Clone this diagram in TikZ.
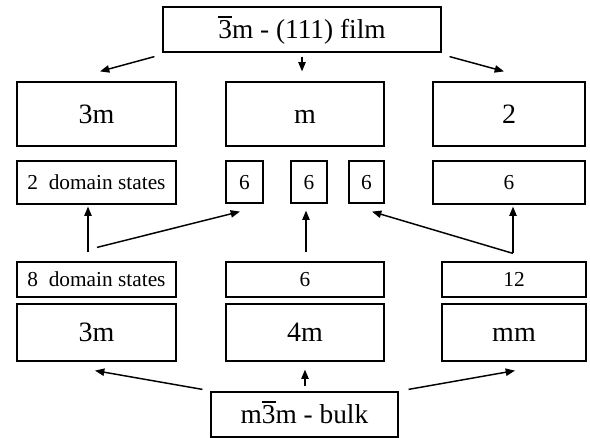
\documentclass[tikz,border=0pt]{standalone}
\usepackage{fontspec}
\setmainfont{Liberation Serif}
\usetikzlibrary{arrows.meta,calc}
\newcommand{\obar}[1]{\leavevmode\vbox{\hrule height 0.055em\kern0.09em\hbox{#1}}}
\begin{document}
\begin{tikzpicture}[x=0.75pt,y=-0.75pt,
  box/.style={draw,line width=0.9pt,rectangle,inner sep=0pt,anchor=center},
  big/.style={box,font=\fontsize{21}{24}\selectfont,text height=14pt,text depth=0pt},
  small/.style={box,font=\fontsize{16}{19}\selectfont,text height=11pt,text depth=0pt},
  title/.style={box,font=\fontsize{20.5}{24}\selectfont,text height=15pt,text depth=2pt},
  arr/.style={line width=1.1pt,-{Triangle[length=7pt,width=5.5pt]}}]
\useasboundingbox (0,0) rectangle (590,438);
% top and bottom
\node[title,minimum width=278*0.75pt,minimum height=45*0.75pt] (top) at (302,29.5) {\obar{3}m - (111) film};
\node[title,minimum width=187*0.75pt,minimum height=45*0.75pt] (bot) at (304.5,414.5) {m\obar{3}m - bulk};
% row 1
\node[big,minimum width=159*0.75pt,minimum height=64*0.75pt] (r1a) at (96.5,114) {3m};
\node[big,minimum width=158*0.75pt,minimum height=64*0.75pt] (r1b) at (305,114) {m};
\node[big,minimum width=152*0.75pt,minimum height=64*0.75pt] (r1c) at (509,114) {2};
% row 2
\node[small,minimum width=159*0.75pt,minimum height=43*0.75pt] (r2a) at (96.5,182.5) {2\ \ domain states};
\node[small,minimum width=37*0.75pt,minimum height=42*0.75pt] (r2b) at (244.5,182) {6};
\node[small,minimum width=36*0.75pt,minimum height=42*0.75pt] (r2c) at (309,182) {6};
\node[small,minimum width=35*0.75pt,minimum height=42*0.75pt] (r2d) at (366.5,182) {6};
\node[small,minimum width=152*0.75pt,minimum height=43*0.75pt] (r2e) at (509,182.5) {6};
% row 3
\node[small,minimum width=159*0.75pt,minimum height=35*0.75pt] (r3a) at (96.5,279.5) {8\ \ domain states};
\node[small,minimum width=158*0.75pt,minimum height=35*0.75pt] (r3b) at (305,279.5) {6};
\node[small,minimum width=144*0.75pt,minimum height=35*0.75pt] (r3c) at (514,279.5) {12};
% row 4
\node[big,minimum width=159*0.75pt,minimum height=57*0.75pt] (r4a) at (96.5,332.5) {3m};
\node[big,minimum width=158*0.75pt,minimum height=57*0.75pt] (r4b) at (305,332.5) {4m};
\node[big,minimum width=144*0.75pt,minimum height=57*0.75pt] (r4c) at (514,332.5) {mm};
% arrows from top
\draw[arr] ($(top.south west)+(-8,4)$) -- ($(r1a.north)+(3.5,-10)$);
\draw[arr] ($(top.south)+(0,4)$) -- ($(r1b.north)+(-3,-10)$);
\draw[arr] ($(top.south east)+(8,4)$) -- ($(r1c.north)+(-5,-10)$);
% middle arrows
\draw[arr] ($(r3a.north)+(-8.5,-9)$) -- ($(r2a.south)+(-8.5,2)$);
\draw[arr] ($(r3a.north)+(0.5,-14)$) -- ($(r2b.south)+(-4.5,8)$);
\draw[arr] ($(r3b.north)+(1,-9)$) -- ($(r2c.south)+(-3,7)$);
\draw[arr] ($(r3c.north)+(-1,-8)$) -- ($(r2e.south)+(4,2)$);
\draw[arr] ($(r3c.north)+(-1,-8)$) -- ($(r2d.south)+(5.5,8)$);
% arrows from bottom
\draw[arr] ($(bot.north west)+(-8,-2)$) -- ($(r4a.south)+(-1.5,9)$);
\draw[arr] ($(bot.north)+(0.5,-5)$) -- ($(r4b.south)+(0,8)$);
\draw[arr] ($(bot.north east)+(10,-2)$) -- ($(r4c.south)+(1,9)$);
\end{tikzpicture}
\end{document}
